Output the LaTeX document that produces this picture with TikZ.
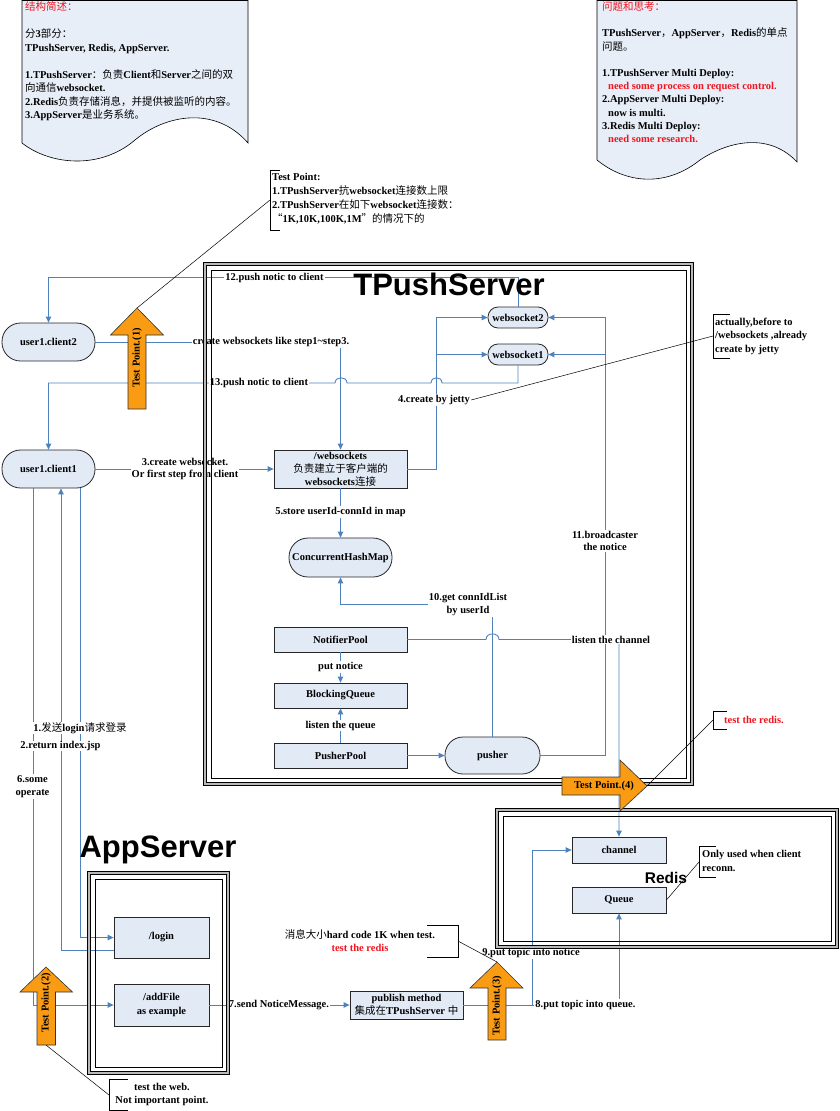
\documentclass[tikz,border=0pt]{standalone}
\usepackage{fontspec}
\setmainfont{Liberation Serif}
\newfontfamily\cjkf{Noto Sans CJK SC}
\newfontfamily\arialf{Liberation Sans}
\usetikzlibrary{arrows.meta}
\newcommand{\zh}[1]{{\cjkf\mdseries #1}}
\definecolor{lnblue}{RGB}{79,129,189}
\definecolor{nfill}{RGB}{226,234,246}
\definecolor{dfill}{RGB}{232,238,248}
\definecolor{tporange}{RGB}{250,155,20}
\definecolor{rd}{RGB}{240,20,30}
\tikzset{
  base/.style={font=\bfseries\fontsize{10.5}{13.5}\selectfont},
  box/.style={base, draw=black!85, line width=0.8pt, fill=nfill, inner sep=1pt, align=center},
  stad/.style={box, rounded corners=#1},
  conn/.style={draw=lnblue, line width=0.9pt},
  arr/.style={conn, -{Triangle[length=6pt,width=5.5pt]}},
  lbl/.style={base, fill=white, inner sep=1pt, align=center},
  note/.style={base, inner sep=0pt, align=left},
  callout/.style={draw=black, line width=0.5pt},
  frameO/.style={draw=black, double=gray!55, double distance=2pt, line width=0.6pt},
  frameI/.style={draw=black, line width=0.6pt},
  tparr/.style={draw=black!80, fill=tporange, line width=0.6pt},
  tptext/.style={base, inner sep=0pt},
  doc/.style={draw=black, line width=0.6pt, fill=dfill},
  title/.style={font=\arialf\bfseries\fontsize{31}{31}\selectfont, inner sep=0pt},
}
\begin{document}
\begin{tikzpicture}[x=1pt, y=-1pt]
\useasboundingbox (0,0) rectangle (839,1111);

% ---------- document shapes ----------
\draw[doc] (22,0.5) -- (248,0.5) -- (248,143) .. controls (215,105) and (165,115) .. (135,140) .. controls (100,170) and (50,165) .. (22,143) -- cycle;
\node[note, anchor=north west] (docL) at (25,1.5) {%
{\color{rd}\zh{结构简述：}}\\[13.5pt]
\zh{分}3\zh{部分：}\\
TPushServer, Redis, AppServer.\\[13.5pt]
1.TPushServer\zh{：负责}Client\zh{和}Server\zh{之间的双}\\
\zh{向通信}websocket.\\
2.Redis\zh{负责存储消息，并提供被监听的内容。}\\
3.AppServer\zh{是业务系统。}};

\draw[doc] (597,0.5) -- (797,0.5) -- (797,162) .. controls (770,133) and (730,140) .. (700,160) .. controls (665,188) and (625,183) .. (597,160) -- cycle;
\node[note, anchor=north west, font=\bfseries\fontsize{10.5}{13.2}\selectfont] (docR) at (602,1.5) {%
{\color{rd}\zh{问题和思考：}}\\[13.2pt]
TPushServer\zh{，}AppServer\zh{，}Redis\zh{的单点}\\
\zh{问题。}\\[13.2pt]
1.TPushServer Multi Deploy:\\
\hspace*{6pt}{\color{rd}need some process on request control.}\\
2.AppServer Multi Deploy:\\
\hspace*{6pt}now is multi.\\
3.Redis Multi Deploy:\\
\hspace*{6pt}{\color{rd}need some research.}};

% ---------- nodes ----------
\node[stad=18.5pt, minimum width=93pt, minimum height=38pt] (client2) at (48.5,342) {user1.client2};
\node[stad=18.5pt, minimum width=93pt, minimum height=38pt] (client1) at (48.5,469) {user1.client1};
\node[stad=10pt, minimum width=60pt, minimum height=21pt] (ws2) at (518,317.5) {websocket2};
\node[stad=10pt, minimum width=60pt, minimum height=21pt] (ws1) at (518,354.5) {websocket1};
\node[box, minimum width=133pt, minimum height=38pt, font=\bfseries\fontsize{10.5}{13}\selectfont] (wss) at (340.5,469) {/websockets\\\zh{负责建立于客户端的}\\websockets\zh{连接}};
\node[stad=19pt, minimum width=103pt, minimum height=39pt] (chm) at (340.5,557.5) {ConcurrentHashMap};
\node[box, minimum width=133pt, minimum height=25pt] (np) at (340.5,639.5) {NotifierPool};
\node[box, minimum width=133pt, minimum height=25pt] (bq) at (340.5,695.5) {BlockingQueue};
\node[box, minimum width=133pt, minimum height=25pt] (pp) at (340.5,755.5) {PusherPool};
\node[stad=18pt, minimum width=95pt, minimum height=37pt] (pusher) at (492.5,755.5) {pusher};
\node[box, minimum width=94pt, minimum height=26pt] (channel) at (619,850) {channel};
\node[box, minimum width=94pt, minimum height=26pt] (queue) at (619,900) {Queue};
\node[box, minimum width=95pt, minimum height=41pt] (login) at (161.5,937.5) {/login};
\node[box, minimum width=95pt, minimum height=42pt] (addfile) at (161.5,1005) {/addFile\\as example};
\node[box, minimum width=113pt, minimum height=28pt, font=\bfseries\fontsize{10.5}{12.5}\selectfont] (publish) at (406.5,1005) {publish method\\\zh{集成在}TPushServer \zh{中}};

% ---------- connectors ----------
\draw[arr] (ws2.north) -- (518,277.5) -- (48.5,277.5) -- (client2.north);
\draw[arr] (client2.east) -- (340.5,342) -- (wss.north);
\draw[arr] (ws1.south) -- (518,383) -- (442,383) .. controls (442,376) and (431,376) .. (431,383) -- (347,383) .. controls (347,376) and (335,376) .. (335,383) -- (48.5,383) -- (client1.north);
\draw[arr] (client1.east) -- (wss.west);
\coordinate (j4) at (436,354.5);
\draw[arr] (wss.east) -- (436,469) -- (436,317.5) -- (ws2.west);
\draw[arr] (j4) -- (ws1.west);
\draw[arr] (wss.south) -- (chm.north);
\draw[arr] (pusher.north) -- (492.5,604.5) -- (340.5,604.5) -- (chm.south);
\coordinate (j11) at (605,354.5);
\draw[arr] (pusher.east) -- (605,755.5) -- (605,317.5) -- (ws2.east);
\draw[arr] (j11) -- (ws1.east);
\draw[arr] (np.east) -- (486,639.5) .. controls (486,632) and (499,632) .. (499,639.5) -- (619,639.5) -- (channel.north);
\draw[arr] (np.south) -- (bq.north);
\draw[arr] (pp.north) -- (bq.south);
\draw[arr] (pp.east) -- (pusher.west);
\draw[arr] ([xshift=31.5pt]client1.south) |- (login.west);
\draw[arr] ([yshift=-12.5pt]login.west) -| ([xshift=12.5pt]client1.south);
\draw[arr] ([xshift=-15.5pt]client1.south) |- (addfile.west);
\draw[arr] (addfile.east) -- (publish.west);
\draw[arr] (publish.east) -| (532,850) -- (channel.west);
\draw[arr] (publish.east) -| (queue.south);

% ---------- connector labels ----------
\node[lbl] (l12) at (274.5,277.5) {12.push notic to client};
\node[lbl] (lcr) at (271,342) {create websockets like step1\textasciitilde step3.};
\node[lbl] (l13) at (259,383) {13.push notic to client};
\node[lbl, font=\bfseries\fontsize{10.5}{12}\selectfont] (l3) at (185,469) {3.create websocket.\\Or first step from client};
\node[lbl] (l4) at (434,400) {4.create by jetty};
\node[lbl] (l5) at (340.5,512) {5.store userId-connId in map};
\node[lbl, font=\bfseries\fontsize{10.5}{13}\selectfont] (l10) at (468,604.5) {10.get connIdList\\by userId};
\node[lbl, font=\bfseries\fontsize{10.5}{12.5}\selectfont] (l11) at (605,541) {11.broadcaster\\the notice};
\node[lbl] (lch) at (611,639.5) {listen the channel};
\node[lbl] (lput) at (340.5,667) {put notice};
\node[lbl] (llq) at (340.5,725.5) {listen the queue};
\node[lbl, inner sep=0.5pt] (l1) at (80,728) {1.\zh{发送}login\zh{请求登录}};
\node[lbl, inner sep=0.5pt] (l2) at (60.5,746) {2.return index.jsp};
\node[lbl, font=\bfseries\fontsize{10.5}{13}\selectfont] (l6) at (32.5,786.5) {6.some\\operate};
\node[lbl] (l7) at (279,1005) {7.send NoticeMessage.};
\node[lbl] (l9) at (531,953) {9.put topic into notice};
\node[lbl] (l8) at (585.5,1005) {8.put topic into queue.};

% ---------- frames ----------
\node[frameO, minimum width=487pt, minimum height=520pt] (tpushF) at (448.5,524) {};
\node[frameI, minimum width=475pt, minimum height=508pt] (tpushFi) at (448.5,524) {};
\node[frameO, minimum width=340pt, minimum height=137pt] (redisF) at (667,878.5) {};
\node[frameI, minimum width=328pt, minimum height=125pt] (redisFi) at (667,878.5) {};
\node[frameO, minimum width=139pt, minimum height=200pt] (appF) at (158.5,973) {};
\node[frameI, minimum width=127pt, minimum height=188pt] (appFi) at (158.5,973) {};

\node[title] (tpT) at (449,284) {TPushServer};
\node[title] (appT) at (158,850) {AppServer};
\node[font=\arialf\bfseries\fontsize{15.5}{15.5}\selectfont, inner sep=0pt] (redT) at (666,877.5) {Redis};

% ---------- test point arrows ----------
\draw[tparr] (137,308) -- (163.5,335) -- (146,335) -- (146,409) -- (128,409) -- (128,335) -- (110.5,335) -- cycle;
\node[tptext, rotate=90] (tp1) at (137,358) {Test Point.(1)};
\draw[tparr] (46,967) -- (72.5,992) -- (55.5,992) -- (55.5,1045) -- (37,1045) -- (37,992) -- (20,992) -- cycle;
\node[tptext, rotate=90] (tp2) at (46,1003) {Test Point.(2)};
\draw[tparr] (497,962) -- (523,988) -- (506,988) -- (506,1040) -- (488,1040) -- (488,988) -- (470,988) -- cycle;
\node[tptext, rotate=90] (tp3) at (497,1006) {Test Point.(3)};
\draw[tparr] (562,777) -- (620,777) -- (620,760) -- (647,786) -- (620,811) -- (620,795) -- (562,795) -- cycle;
\node[tptext] (tp4) at (604,786) {Test Point.(4)};
\coordinate (tp1tip) at (137,308);
\coordinate (tp2base) at (46,1045);
\coordinate (tp3tip) at (497,962);
\coordinate (tp4tip) at (647,786);

% ---------- callouts ----------
\draw[callout] (280,170) -- (270,170) -- (270,230) -- (280,230);
\coordinate (tpnB) at (270,200);
\node[note, anchor=west, font=\bfseries\fontsize{10.5}{14}\selectfont] (tpnote) at (272,199) {Test Point:\\
1.TPushServer\zh{抗}websocket\zh{连接数上限}\\
2.TPushServer\zh{在如下}websocket\zh{连接数：}\\
\zh{“}1K,10K,100K,1M\zh{”的情况下的}};
\draw[callout] (tpnB) -- (tp1tip);

\draw[callout] (730,314) -- (713,314) -- (713,358) -- (730,358);
\coordinate (jB) at (713,336);
\node[note, anchor=west] (jetty) at (715,336) {actually,before to\\/websockets ,already\\create by jetty};
\draw[callout] (jB) -- (l4.east);

\draw[callout] (727,711) -- (713,711) -- (713,729) -- (727,729);
\coordinate (rB) at (713,720);
\node[note, anchor=west, text=rd] (rnote) at (724,720) {test the redis.};
\draw[callout] (rB) -- (tp4tip);

\draw[callout] (716,846) -- (699,846) -- (699,877) -- (716,877);
\coordinate (qB) at (699,862);
\node[note, anchor=west] (reconn) at (702,861) {Only used when client\\reconn.};
\draw[callout] (qB) -- (queue.east);

\draw[callout] (427,925) -- (458,925) -- (458,957) -- (427,957);
\coordinate (mB) at (458,941);
\node[note, align=center] (msg) at (360,940.5) {\zh{消息大小}hard code 1K when test.\\{\color{rd}test the redis}};
\draw[callout] (mB) -- (tp3tip);

\draw[callout] (128,1079) -- (109,1079) -- (109,1110) -- (128,1110);
\coordinate (wB) at (109,1095);
\node[note, align=center] (web) at (162,1094.5) {test the web.\\Not important point.};
\draw[callout] (wB) -- (tp2base);
\end{tikzpicture}
\end{document}
